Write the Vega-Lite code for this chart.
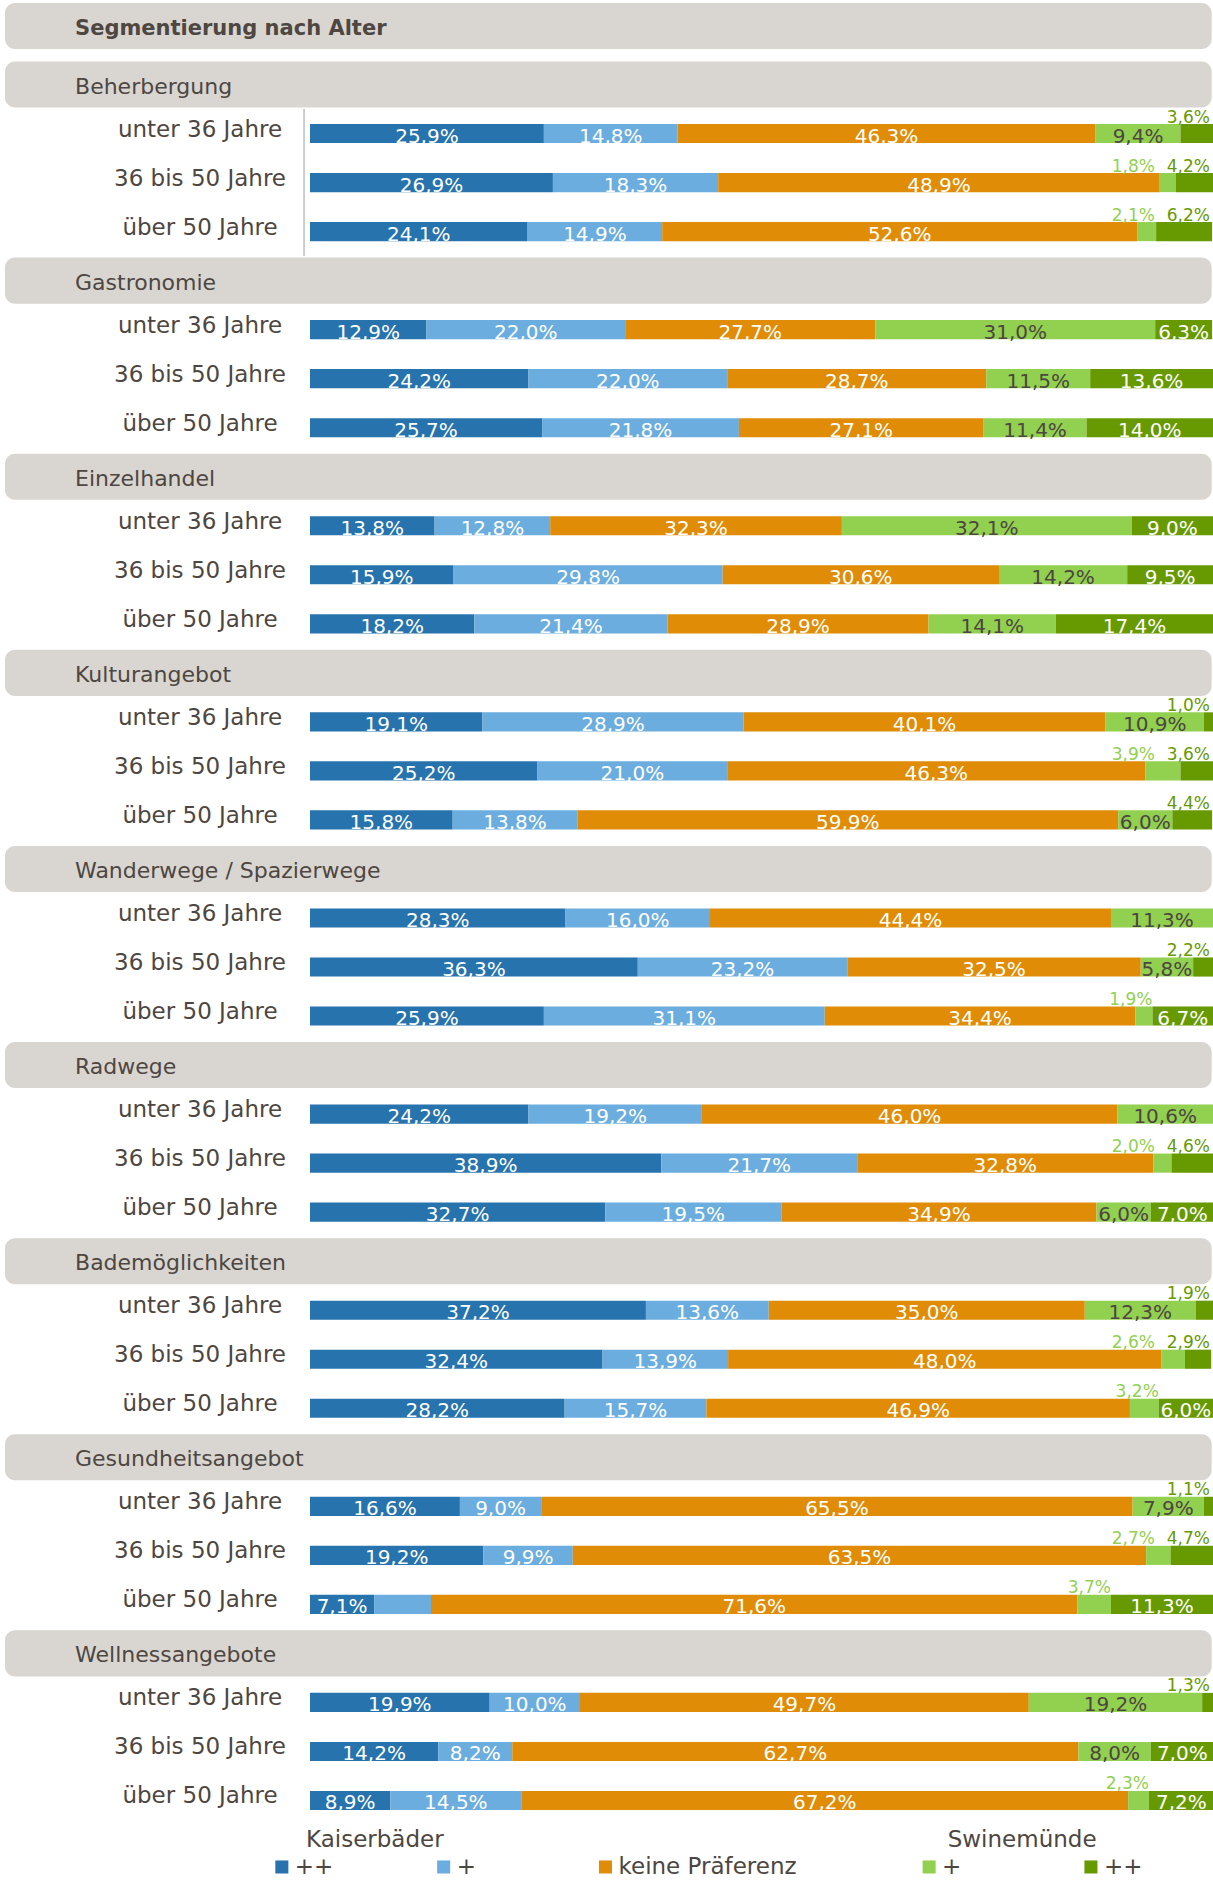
{
  "$schema": "https://vega.github.io/schema/vega-lite/v6.json",
  "padding": 0,
  "spacing": 0,
  "background": "white",
  "config": {"view": {"stroke": null}, "font": "DejaVu Sans"},
  "resolve": {"scale": {"x": "independent", "y": "independent", "color": "independent"}},
  "datasets": {
    "title": [{"title": "Segmentierung nach Alter"}],
    "headers": [
      {"cat": "Beherbergung"}, {"cat": "Gastronomie"}, {"cat": "Einzelhandel"},
      {"cat": "Kulturangebot"}, {"cat": "Wanderwege / Spazierwege"}, {"cat": "Radwege"},
      {"cat": "Bademöglichkeiten"}, {"cat": "Gesundheitsangebot"}, {"cat": "Wellnessangebote"}
    ],
    "bars": [
      {"cat": "Beherbergung", "age": "unter 36 Jahre", "k2": 25.9, "k1": 14.8, "n": 46.3, "s1": 9.4, "s2": 3.6},
      {"cat": "Beherbergung", "age": "36 bis 50 Jahre", "k2": 26.9, "k1": 18.3, "n": 48.9, "s1": 1.8, "s2": 4.2},
      {"cat": "Beherbergung", "age": "über 50 Jahre", "k2": 24.1, "k1": 14.9, "n": 52.6, "s1": 2.1, "s2": 6.2},
      {"cat": "Gastronomie", "age": "unter 36 Jahre", "k2": 12.9, "k1": 22.0, "n": 27.7, "s1": 31.0, "s2": 6.3},
      {"cat": "Gastronomie", "age": "36 bis 50 Jahre", "k2": 24.2, "k1": 22.0, "n": 28.7, "s1": 11.5, "s2": 13.6},
      {"cat": "Gastronomie", "age": "über 50 Jahre", "k2": 25.7, "k1": 21.8, "n": 27.1, "s1": 11.4, "s2": 14.0},
      {"cat": "Einzelhandel", "age": "unter 36 Jahre", "k2": 13.8, "k1": 12.8, "n": 32.3, "s1": 32.1, "s2": 9.0},
      {"cat": "Einzelhandel", "age": "36 bis 50 Jahre", "k2": 15.9, "k1": 29.8, "n": 30.6, "s1": 14.2, "s2": 9.5},
      {"cat": "Einzelhandel", "age": "über 50 Jahre", "k2": 18.2, "k1": 21.4, "n": 28.9, "s1": 14.1, "s2": 17.4},
      {"cat": "Kulturangebot", "age": "unter 36 Jahre", "k2": 19.1, "k1": 28.9, "n": 40.1, "s1": 10.9, "s2": 1.0},
      {"cat": "Kulturangebot", "age": "36 bis 50 Jahre", "k2": 25.2, "k1": 21.0, "n": 46.3, "s1": 3.9, "s2": 3.6},
      {"cat": "Kulturangebot", "age": "über 50 Jahre", "k2": 15.8, "k1": 13.8, "n": 59.9, "s1": 6.0, "s2": 4.4},
      {"cat": "Wanderwege / Spazierwege", "age": "unter 36 Jahre", "k2": 28.3, "k1": 16.0, "n": 44.4, "s1": 11.3, "s2": 0},
      {"cat": "Wanderwege / Spazierwege", "age": "36 bis 50 Jahre", "k2": 36.3, "k1": 23.2, "n": 32.5, "s1": 5.8, "s2": 2.2},
      {"cat": "Wanderwege / Spazierwege", "age": "über 50 Jahre", "k2": 25.9, "k1": 31.1, "n": 34.4, "s1": 1.9, "s2": 6.7},
      {"cat": "Radwege", "age": "unter 36 Jahre", "k2": 24.2, "k1": 19.2, "n": 46.0, "s1": 10.6, "s2": 0},
      {"cat": "Radwege", "age": "36 bis 50 Jahre", "k2": 38.9, "k1": 21.7, "n": 32.8, "s1": 2.0, "s2": 4.6},
      {"cat": "Radwege", "age": "über 50 Jahre", "k2": 32.7, "k1": 19.5, "n": 34.9, "s1": 6.0, "s2": 7.0},
      {"cat": "Bademöglichkeiten", "age": "unter 36 Jahre", "k2": 37.2, "k1": 13.6, "n": 35.0, "s1": 12.3, "s2": 1.9},
      {"cat": "Bademöglichkeiten", "age": "36 bis 50 Jahre", "k2": 32.4, "k1": 13.9, "n": 48.0, "s1": 2.6, "s2": 2.9},
      {"cat": "Bademöglichkeiten", "age": "über 50 Jahre", "k2": 28.2, "k1": 15.7, "n": 46.9, "s1": 3.2, "s2": 6.0},
      {"cat": "Gesundheitsangebot", "age": "unter 36 Jahre", "k2": 16.6, "k1": 9.0, "n": 65.5, "s1": 7.9, "s2": 1.1},
      {"cat": "Gesundheitsangebot", "age": "36 bis 50 Jahre", "k2": 19.2, "k1": 9.9, "n": 63.5, "s1": 2.7, "s2": 4.7},
      {"cat": "Gesundheitsangebot", "age": "über 50 Jahre", "k2": 7.1, "k1": 6.3, "n": 71.6, "s1": 3.7, "s2": 11.3},
      {"cat": "Wellnessangebote", "age": "unter 36 Jahre", "k2": 19.9, "k1": 10.0, "n": 49.7, "s1": 19.2, "s2": 1.3},
      {"cat": "Wellnessangebote", "age": "36 bis 50 Jahre", "k2": 14.2, "k1": 8.2, "n": 62.7, "s1": 8.0, "s2": 7.0},
      {"cat": "Wellnessangebote", "age": "über 50 Jahre", "k2": 8.9, "k1": 14.5, "n": 67.2, "s1": 2.3, "s2": 7.2}
    ],
    "legend": [
      {"kind": "group", "seg": "k2", "label": "Kaiserbäder"},
      {"kind": "group", "seg": "s1", "label": "Swinemünde"},
      {"kind": "item", "seg": "k2", "label": "++"},
      {"kind": "item", "seg": "k1", "label": "+"},
      {"kind": "item", "seg": "n", "label": "keine Präferenz"},
      {"kind": "item", "seg": "s1", "label": "+"},
      {"kind": "item", "seg": "s2", "label": "++"}
    ]
  },
  "vconcat": [
    {
      "width": 1213,
      "height": 60,
      "data": {"name": "title"},
      "encoding": {
        "y": {"field": "title", "type": "nominal", "axis": null, "scale": {"paddingInner": 0, "paddingOuter": 0.152, "align": 0.214}}
      },
      "layer": [
        {
          "mark": {"type": "bar", "color": "#d9d6d1", "cornerRadius": 10},
          "encoding": {
            "x": {"datum": -33.78, "type": "quantitative", "axis": null, "scale": {"domain": [-34.33, 100], "nice": false, "zero": false}},
            "x2": {"datum": 99.85}
          }
        },
        {
          "mark": {"type": "text", "align": "left", "baseline": "alphabetic", "dy": 9, "fontSize": 21, "fontWeight": "bold", "color": "#4d4641", "font": "DejaVu Sans"},
          "encoding": {
            "x": {"datum": -26.02, "type": "quantitative", "axis": null, "scale": {"domain": [-34.33, 100], "nice": false, "zero": false}},
            "text": {"field": "title"}
          }
        }
      ]
    },
    {
      "width": 1213,
      "height": 1765,
      "encoding": {
        "y": {
          "field": "row", "type": "nominal", "axis": null,
          "scale": {
            "paddingInner": 0, "paddingOuter": 0,
            "domain": [
              "Beherbergung", "Beherbergung | unter 36 Jahre", "Beherbergung | 36 bis 50 Jahre", "Beherbergung | über 50 Jahre",
              "Gastronomie", "Gastronomie | unter 36 Jahre", "Gastronomie | 36 bis 50 Jahre", "Gastronomie | über 50 Jahre",
              "Einzelhandel", "Einzelhandel | unter 36 Jahre", "Einzelhandel | 36 bis 50 Jahre", "Einzelhandel | über 50 Jahre",
              "Kulturangebot", "Kulturangebot | unter 36 Jahre", "Kulturangebot | 36 bis 50 Jahre", "Kulturangebot | über 50 Jahre",
              "Wanderwege / Spazierwege", "Wanderwege / Spazierwege | unter 36 Jahre", "Wanderwege / Spazierwege | 36 bis 50 Jahre", "Wanderwege / Spazierwege | über 50 Jahre",
              "Radwege", "Radwege | unter 36 Jahre", "Radwege | 36 bis 50 Jahre", "Radwege | über 50 Jahre",
              "Bademöglichkeiten", "Bademöglichkeiten | unter 36 Jahre", "Bademöglichkeiten | 36 bis 50 Jahre", "Bademöglichkeiten | über 50 Jahre",
              "Gesundheitsangebot", "Gesundheitsangebot | unter 36 Jahre", "Gesundheitsangebot | 36 bis 50 Jahre", "Gesundheitsangebot | über 50 Jahre",
              "Wellnessangebote", "Wellnessangebote | unter 36 Jahre", "Wellnessangebote | 36 bis 50 Jahre", "Wellnessangebote | über 50 Jahre"
            ]
          }
        }
      },
      "layer": [
        {
          "data": {"name": "headers"},
          "transform": [{"calculate": "datum.cat", "as": "row"}],
          "layer": [
            {
              "mark": {"type": "bar", "color": "#d9d6d1", "cornerRadius": 10, "height": {"band": 0.94}},
              "encoding": {
                "x": {"datum": -33.78, "type": "quantitative", "axis": null, "scale": {"domain": [-34.33, 100], "nice": false, "zero": false}},
                "x2": {"datum": 99.85}
              }
            },
            {
              "mark": {"type": "text", "align": "left", "baseline": "alphabetic", "dy": 9, "fontSize": 22, "color": "#4d4641", "font": "DejaVu Sans"},
              "encoding": {
                "x": {"datum": -26.02, "type": "quantitative", "axis": null, "scale": {"domain": [-34.33, 100], "nice": false, "zero": false}},
                "text": {"field": "cat"}
              }
            }
          ]
        },
        {
          "data": {"name": "bars"},
          "transform": [
            {"filter": "datum.cat == 'Beherbergung'"},
            {"calculate": "datum.cat + ' | ' + datum.age", "as": "row"}
          ],
          "mark": {"type": "bar", "color": "#a6a6a6", "height": {"band": 1}},
          "encoding": {
            "x": {"datum": -0.72, "type": "quantitative", "axis": null, "scale": {"domain": [-34.33, 100], "nice": false, "zero": false}},
            "x2": {"datum": -0.6}
          }
        },
        {
          "data": {"name": "bars"},
          "transform": [
            {"calculate": "datum.cat + ' | ' + datum.age", "as": "row"},
            {"calculate": "datum.s2 > 0 && (datum.s2 < 5 || (datum.cat == 'Beherbergung' && datum.age == 'über 50 Jahre'))", "as": "s2up"},
            {"fold": ["k2", "k1", "n", "s1", "s2"], "as": ["seg", "value"]},
            {"calculate": "indexof(['k2','k1','n','s1','s2'], datum.seg)", "as": "idx"},
            {"stack": "value", "groupby": ["row"], "sort": [{"field": "idx", "order": "ascending"}], "as": ["x0", "x1"]},
            {"calculate": "(datum.x0 + datum.x1) / 2", "as": "mid"},
            {"calculate": "replace(format(datum.value, '.1f'), '.', ',') + '%'", "as": "lbl"},
            {"calculate": "datum.value < 5 || (datum.seg == 's2' && datum.s2up)", "as": "up"},
            {"filter": "datum.value > 0"}
          ],
          "layer": [
            {
              "mark": {"type": "bar", "height": {"band": 0.39}},
              "encoding": {
                "x": {"field": "x0", "type": "quantitative", "axis": null, "scale": {"domain": [-34.33, 100], "nice": false, "zero": false}},
                "x2": {"field": "x1"},
                "color": {
                  "field": "seg", "type": "nominal", "legend": null,
                  "scale": {"domain": ["k2", "k1", "n", "s1", "s2"], "range": ["#2673ad", "#6badde", "#e08c06", "#92d050", "#669a00"]}
                }
              }
            },
            {
              "transform": [{"filter": "!datum.up && !(datum.cat == 'Gesundheitsangebot' && datum.age == 'über 50 Jahre' && datum.seg == 'k1')"}],
              "mark": {"type": "text", "align": "center", "baseline": "alphabetic", "dy": 9, "fontSize": 20, "font": "DejaVu Sans"},
              "encoding": {
                "x": {"field": "mid", "type": "quantitative", "axis": null, "scale": {"domain": [-34.33, 100], "nice": false, "zero": false}},
                "text": {"field": "lbl"},
                "color": {"condition": {"test": "datum.seg == 's1'", "value": "#4d4641"}, "value": "#ffffff"}
              }
            },
            {
              "transform": [{"filter": "datum.up && datum.seg == 's2'"}],
              "mark": {"type": "text", "align": "right", "baseline": "alphabetic", "dy": -11, "dx": -3, "fontSize": 17, "color": "#669a00", "font": "DejaVu Sans"},
              "encoding": {
                "x": {"datum": 100, "type": "quantitative", "axis": null, "scale": {"domain": [-34.33, 100], "nice": false, "zero": false}},
                "text": {"field": "lbl"}
              }
            },
            {
              "transform": [{"filter": "datum.up && datum.seg == 's1' && datum.s2up"}],
              "mark": {"type": "text", "align": "right", "baseline": "alphabetic", "dy": -11, "dx": -58, "fontSize": 17, "color": "#92d050", "font": "DejaVu Sans"},
              "encoding": {
                "x": {"datum": 100, "type": "quantitative", "axis": null, "scale": {"domain": [-34.33, 100], "nice": false, "zero": false}},
                "text": {"field": "lbl"}
              }
            },
            {
              "transform": [{"filter": "datum.up && datum.seg == 's1' && !datum.s2up"}],
              "mark": {"type": "text", "align": "right", "baseline": "alphabetic", "dy": -11, "dx": 0, "fontSize": 17, "color": "#92d050", "font": "DejaVu Sans"},
              "encoding": {
                "x": {"field": "x1", "type": "quantitative", "axis": null, "scale": {"domain": [-34.33, 100], "nice": false, "zero": false}},
                "text": {"field": "lbl"}
              }
            }
          ]
        },
        {
          "data": {"name": "bars"},
          "transform": [{"calculate": "datum.cat + ' | ' + datum.age", "as": "row"}],
          "mark": {"type": "text", "align": "center", "baseline": "alphabetic", "dy": 3, "fontSize": 23, "color": "#4d4641", "font": "DejaVu Sans"},
          "encoding": {
            "x": {"datum": -12.18, "type": "quantitative", "axis": null, "scale": {"domain": [-34.33, 100], "nice": false, "zero": false}},
            "text": {"field": "age"}
          }
        }
      ]
    },
    {
      "width": 1213,
      "height": 55,
      "data": {"name": "legend"},
      "encoding": {
        "y": {"field": "kind", "type": "nominal", "axis": null, "scale": {"type": "point", "domain": ["group", "item"], "padding": 0.45}},
        "x": {"field": "seg", "type": "nominal", "axis": null, "scale": {"type": "band", "domain": ["k2", "k1", "n", "gap", "s1", "s2"], "paddingInner": 0, "paddingOuter": 0.748, "align": 0.83}}
      },
      "layer": [
        {
          "transform": [{"filter": "datum.kind == 'item'"}],
          "mark": {"type": "square", "size": 170, "opacity": 1, "filled": true},
          "encoding": {
            "color": {
              "field": "seg", "type": "nominal", "legend": null,
              "scale": {"domain": ["k2", "k1", "n", "s1", "s2"], "range": ["#2673ad", "#6badde", "#e08c06", "#92d050", "#669a00"]}
            }
          }
        },
        {
          "transform": [{"filter": "datum.kind == 'item'"}],
          "mark": {"type": "text", "align": "left", "baseline": "alphabetic", "dx": 13, "dy": 7, "fontSize": 23, "color": "#4d4641", "font": "DejaVu Sans"},
          "encoding": {"text": {"field": "label"}}
        },
        {
          "transform": [{"filter": "datum.kind == 'group'"}],
          "mark": {"type": "text", "align": "center", "baseline": "alphabetic", "dx": 93, "dy": 9, "fontSize": 23, "color": "#4d4641", "font": "DejaVu Sans"},
          "encoding": {"text": {"field": "label"}}
        }
      ]
    }
  ]
}
